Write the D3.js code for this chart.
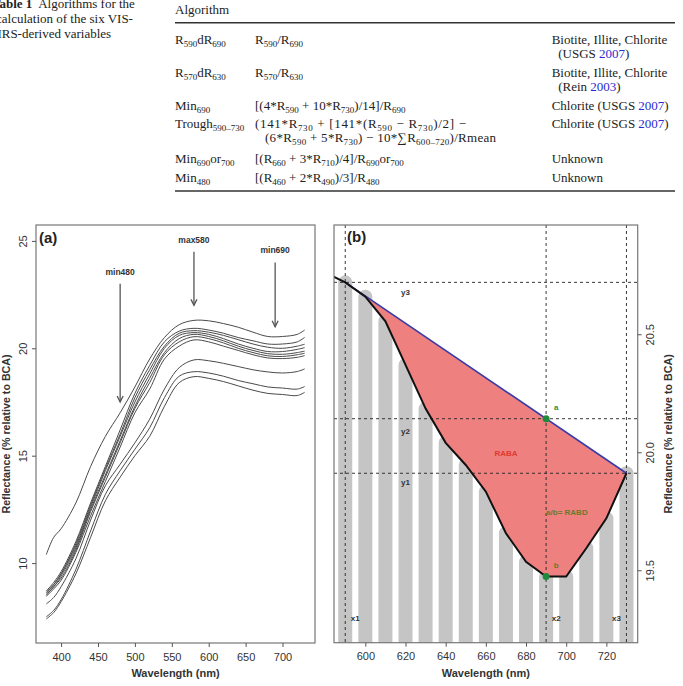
<!DOCTYPE html>
<html>
<head>
<meta charset="utf-8">
<script src="https://cdn.jsdelivr.net/npm/d3@7"></script>
<style>
body { margin: 0; background: #fff; }
svg { display: block; }
.serif { font-family: "Liberation Serif", "Times New Roman", serif; font-size: 13px; fill: #222; white-space: pre; }
.sans { font-family: "Liberation Sans", Arial, Helvetica, sans-serif; }
.axis text { font-family: "Liberation Sans", Arial, sans-serif; font-size: 11px; fill: #333; }
.axis line { stroke: #555; }
.axis path { display: none; }
</style>
</head>
<body>
<svg id="fig" width="683" height="686"></svg>
<script>
// ---------- table ----------
const captionLines = ["*{Table 1}  Algorithms for the", "calculation of the six VIS-", "NIRS-derived variables"];
const tableHeader = "Algorithm";
const varNames = ["R_{590}dR_{690}", "R_{570}dR_{630}", "Min_{690}", "Trough_{590–730}", "Min_{690}or_{700}", "Min_{480}"];
const formulas = [
  ["R_{590}/R_{690}"],
  ["R_{570}/R_{630}"],
  ["[(4*R_{590} + 10*R_{730})/14]/R_{690}"],
  ["(141*R_{730} + [141*(R_{590} − R_{730})/2] −", "(6*R_{590} + 5*R_{730}) − 10*∑R_{600–720})/Rmean"],
  ["[(R_{660} + 3*R_{710})/4]/R_{690}or_{700}"],
  ["[(R_{460} + 2*R_{490})/3]/R_{480}"]
];
const minerals = [
  ["Biotite, Illite, Chlorite", "  (USGS ~{2007})"],
  ["Biotite, Illite, Chlorite", "  (Rein ~{2003})"],
  ["Chlorite (USGS ~{2007})"],
  ["Chlorite (USGS ~{2007})"],
  ["Unknown"],
  ["Unknown"]
];

// ---------- panel (a): spectra ----------
const wavelengthsA = [380, 390, 400, 420, 440, 460, 480, 500, 520, 540, 560, 580, 600, 620, 640, 660, 680, 700, 720, 730];
const spectra = [
  [10.4, 11.2, 11.6, 12.8, 14.5, 15.9, 17.0, 18.2, 19.5, 20.5, 21.1, 21.3, 21.28, 21.15, 20.98, 20.75, 20.55, 20.55, 20.65, 20.85],
  [8.7, 9.1, 9.6, 11.0, 12.8, 14.5, 16.2, 17.9, 19.2, 20.3, 20.8, 20.93, 20.85, 20.7, 20.5, 20.35, 20.2, 20.2, 20.3, 20.51],
  [8.65, 9.0, 9.5, 10.9, 12.7, 14.4, 16.0, 17.7, 19.0, 20.1, 20.7, 20.82, 20.75, 20.6, 20.4, 20.2, 20.05, 20.0, 20.1, 20.19],
  [8.6, 9.0, 9.5, 10.8, 12.6, 14.3, 15.9, 17.5, 18.8, 20.0, 20.6, 20.73, 20.65, 20.45, 20.2, 20.0, 19.85, 19.85, 19.95, 20.03],
  [8.55, 8.9, 9.4, 10.7, 12.5, 14.1, 15.7, 17.3, 18.6, 19.8, 20.45, 20.65, 20.55, 20.35, 20.1, 19.9, 19.75, 19.72, 19.8, 19.87],
  [8.5, 8.9, 9.3, 10.6, 12.4, 14.0, 15.6, 17.2, 18.4, 19.7, 20.3, 20.54, 20.45, 20.25, 20.0, 19.8, 19.65, 19.62, 19.7, 19.77],
  [8.45, 8.8, 9.2, 10.5, 12.2, 13.8, 15.4, 17.0, 18.1, 19.5, 20.1, 20.39, 20.3, 20.1, 19.9, 19.7, 19.55, 19.52, 19.58, 19.66],
  [8.1, 8.4, 8.9, 10.2, 12.0, 13.6, 14.6, 15.6, 16.7, 18.1, 19.1, 19.46, 19.42, 19.3, 19.15, 19.0, 18.9, 18.85, 18.92, 19.04],
  [7.5, 7.8, 8.3, 9.7, 11.5, 13.2, 14.3, 15.3, 16.3, 17.7, 18.7, 18.91, 18.85, 18.7, 18.5, 18.35, 18.2, 18.15, 18.1, 18.22],
  [7.4, 7.7, 8.2, 9.5, 11.2, 12.9, 14.0, 15.0, 15.9, 17.3, 18.4, 18.68, 18.6, 18.45, 18.25, 18.05, 17.9, 17.85, 17.8, 17.95]
];
const featureNames = ["min480", "max580", "min690"];
const featureWl = [480, 580, 690];
const featureTop = [23.0, 24.5, 24.0];
const featureTip = [17.5, 22.0, 21.0];

// ---------- panel (b): continuum removal ----------
const wavelengthsB = [580, 590, 600, 610, 620, 630, 640, 650, 660, 670, 680, 690, 700, 710, 720, 730];
const reflB = [20.762, 20.72, 20.659, 20.555, 20.37, 20.185, 20.04, 19.946, 19.833, 19.657, 19.536, 19.473, 19.473, 19.593, 19.72, 19.911];
const hullEnds = [590, 730];
const bandCentre = 690;

const svg = d3.select("#fig");

// rich text: _{sub}, ~{blue}, *{bold}
function rich(textSel, str) {
  const parts = str.split(/(_\{[^}]*\}|~\{[^}]*\}|\*\{[^}]*\})/).filter(p => p !== "");
  let down = false;
  parts.forEach(p => {
    const t = textSel.append("tspan");
    if (p.startsWith("_{")) {
      t.text(p.slice(2, -1)).attr("font-size", 9).attr("dy", down ? 0 : 3);
      down = true;
    } else {
      if (down) t.attr("dy", -3);
      down = false;
      if (p.startsWith("~{")) t.text(p.slice(2, -1)).style("fill", "#2b2bd0");
      else if (p.startsWith("*{")) t.text(p.slice(2, -1)).style("font-weight", "bold");
      else t.text(p);
    }
  });
  return textSel;
}

// caption
const capX = [-8, -4, -12];
captionLines.forEach((l, i) => {
  rich(svg.append("text").attr("class", "serif").attr("x", capX[i]).attr("y", 7.5 + i * 15), l);
});

// table
const colX = [175, 255, 551.7];
const rowY = [44, 77, 110, 128, 162.5, 182];
svg.append("text").attr("class", "serif").attr("x", colX[0]).attr("y", 13.5).text(tableHeader);
svg.append("line").attr("x1", 175).attr("x2", 675).attr("y1", 22.7).attr("y2", 22.7).attr("stroke", "#333").attr("stroke-width", 1.4);
svg.append("line").attr("x1", 175).attr("x2", 675).attr("y1", 191).attr("y2", 191).attr("stroke", "#333").attr("stroke-width", 1.4);
const troughLen = [211, 231];
varNames.forEach((v, i) => {
  rich(svg.append("text").attr("class", "serif").attr("x", colX[0]).attr("y", rowY[i]), v);
  formulas[i].forEach((f, j) => {
    const t = rich(svg.append("text").attr("class", "serif").attr("x", colX[1] + j * 10).attr("y", rowY[i] + j * 13.5), f);
    if (formulas[i].length > 1) t.attr("textLength", troughLen[j]).attr("lengthAdjust", "spacing");
  });
  minerals[i].forEach((m, j) => rich(svg.append("text").attr("class", "serif").attr("x", colX[2]).attr("y", rowY[i] + j * 13.5), m));
});

// ---------- panel (a) ----------
const fa = { l: 36, r: 315, t: 225, b: 643 };
const xa = d3.scaleLinear().domain([366, 744]).range([fa.l, fa.r]);
const ya = d3.scaleLinear().domain([6.28, 25.74]).range([fa.b, fa.t]);
const ga = svg.append("g");

const lineA = d3.line().x((d, i) => xa(wavelengthsA[i])).y(d => ya(d)).curve(d3.curveCatmullRom);
ga.selectAll(".spec").data(spectra).enter().append("path")
  .attr("d", lineA).attr("fill", "none").attr("stroke", "#4a4a4a").attr("stroke-width", 1);

featureNames.forEach((n, i) => {
  const x = xa(featureWl[i]);
  ga.append("text").attr("class", "sans").attr("x", x).attr("y", ya(featureTop[i]) - 9)
    .attr("text-anchor", "middle").style("font-size", "8.5px").style("font-weight", "bold").style("fill", "#333").text(n);
  ga.append("line").attr("x1", x).attr("x2", x).attr("y1", ya(featureTop[i])).attr("y2", ya(featureTip[i]))
    .attr("stroke", "#555").attr("stroke-width", 1.3);
  const ty = ya(featureTip[i]);
  ga.append("path").attr("d", `M${x - 3},${ty - 6}L${x},${ty}L${x + 3},${ty - 6}`)
    .attr("fill", "none").attr("stroke", "#555").attr("stroke-width", 1.3);
});

ga.append("rect").attr("x", fa.l).attr("y", fa.t).attr("width", fa.r - fa.l).attr("height", fa.b - fa.t)
  .attr("fill", "none").attr("stroke", "#777").attr("stroke-width", 1.2);

ga.append("g").attr("class", "axis").attr("transform", `translate(0,${fa.b})`)
  .call(d3.axisBottom(xa).tickValues(d3.range(400, 701, 50)).tickSize(4).tickSizeOuter(0).tickPadding(6));
const yaxA = ga.append("g").attr("class", "axis").attr("transform", `translate(${fa.l},0)`)
  .call(d3.axisLeft(ya).tickValues([10, 15, 20, 25]).tickSize(4).tickSizeOuter(0));
yaxA.selectAll("text").attr("transform", "rotate(-90)").attr("x", 0).attr("y", -9).attr("dy", 0).style("text-anchor", "middle");

ga.append("text").attr("class", "sans").attr("x", 39).attr("y", 243).style("font-size", "15px").style("font-weight", "bold").style("fill", "#222").text("(a)");
ga.append("text").attr("class", "sans").attr("x", (fa.l + fa.r) / 2).attr("y", 677).attr("text-anchor", "middle")
  .style("font-size", "11px").style("font-weight", "bold").style("fill", "#333").text("Wavelength (nm)");
ga.append("text").attr("class", "sans").attr("transform", `translate(9.5,${(fa.t + fa.b) / 2}) rotate(-90)`).attr("text-anchor", "middle")
  .style("font-size", "10.7px").style("font-weight", "bold").style("fill", "#333").text("Reflectance (% relative to BCA)");

// ---------- panel (b) ----------
const fb = { l: 334, r: 637.7, t: 225, b: 642.7 };
const xb = d3.scaleLinear().domain([584.4, 735.6]).range([fb.l, fb.r]);
const yb = d3.scaleLinear().domain([19.193, 20.963]).range([fb.b, fb.t]);
const gb = svg.append("g");
gb.append("clipPath").attr("id", "clipb").append("rect")
  .attr("x", fb.l).attr("y", fb.t).attr("width", fb.r - fb.l).attr("height", fb.b - fb.t);
const inner = gb.append("g").attr("clip-path", "url(#clipb)");

const pts = wavelengthsB.map((w, i) => ({ w, v: reflB[i] }));
const inHull = pts.filter(p => p.w >= hullEnds[0] && p.w <= hullEnds[1]);
const r1 = inHull[0].v, r2 = inHull[inHull.length - 1].v;
const hull = w => r1 + (r2 - r1) * (w - hullEnds[0]) / (hullEnds[1] - hullEnds[0]);

// bars
inner.selectAll(".bar").data(inHull).enter().append("line")
  .attr("x1", d => xb(d.w)).attr("x2", d => xb(d.w))
  .attr("y1", fb.b + 20).attr("y2", d => yb(d.v))
  .attr("stroke", "#c5c5c5").attr("stroke-width", 14).attr("stroke-linecap", "round");

// area between hull and spectrum
const poly = [[hullEnds[0], r1], [hullEnds[1], r2]].concat(inHull.slice().reverse().map(p => [p.w, p.v]));
inner.append("path").attr("d", "M" + poly.map(p => `${xb(p[0])},${yb(p[1])}`).join("L") + "Z")
  .attr("fill", "#ee8080").attr("stroke", "none");

// dashed guides
const dash = { stroke: "#222", "stroke-width": 0.9, "stroke-dasharray": "3,3" };
const vGuides = [hullEnds[0], bandCentre, hullEnds[1]];
const hGuides = [r1, hull(bandCentre), r2];
vGuides.forEach(w => {
  const l = inner.append("line").attr("x1", xb(w)).attr("x2", xb(w)).attr("y1", fb.t).attr("y2", fb.b);
  Object.entries(dash).forEach(([k, v]) => l.attr(k, v));
});
hGuides.forEach(v => {
  const l = inner.append("line").attr("x1", fb.l).attr("x2", fb.r).attr("y1", yb(v)).attr("y2", yb(v));
  Object.entries(dash).forEach(([k, val]) => l.attr(k, val));
});

inner.append("line").attr("x1", xb(hullEnds[0])).attr("y1", yb(r1)).attr("x2", xb(hullEnds[1])).attr("y2", yb(r2))
  .attr("stroke", "#3b3ba6").attr("stroke-width", 1.6);
inner.append("path").datum(pts)
  .attr("d", d3.line().x(d => xb(d.w)).y(d => yb(d.v)))
  .attr("fill", "none").attr("stroke", "#111").attr("stroke-width", 2);

const bVal = reflB[wavelengthsB.indexOf(bandCentre)];
[hull(bandCentre), bVal].forEach(v => {
  inner.append("circle").attr("cx", xb(bandCentre)).attr("cy", yb(v)).attr("r", 3.5).attr("fill", "#1f8a3c");
});

const lbl = (w, v, t, col, anchor) => inner.append("text").attr("class", "sans")
  .attr("x", xb(w)).attr("y", yb(v)).attr("text-anchor", anchor || "middle")
  .style("font-size", "8px").style("font-weight", "bold").style("fill", col).text(t);
lbl(620, hGuides[0] - 0.055, "y3", "#333");
lbl(620, hGuides[1] - 0.065, "y2", "#333");
lbl(620, hGuides[2] - 0.05, "y1", "#333");
lbl(hullEnds[0] + 5, 19.285, "x1", "#333");
lbl(bandCentre + 5, 19.285, "x2", "#333");
lbl(hullEnds[1] - 5, 19.285, "x3", "#333");
lbl(bandCentre + 5, hull(bandCentre) + 0.038, "a", "#3a8a3a");
lbl(bandCentre + 5, bVal + 0.038, "b", "#6b7a2a");
lbl(670, 19.985, "RABA", "#e03a30");
lbl(bandCentre, 19.735, "a/b= RABD", "#6b7a2a", "start");

gb.append("rect").attr("x", fb.l).attr("y", fb.t).attr("width", fb.r - fb.l).attr("height", fb.b - fb.t)
  .attr("fill", "none").attr("stroke", "#777").attr("stroke-width", 1.2);

gb.append("g").attr("class", "axis").attr("transform", `translate(0,${fb.b})`)
  .call(d3.axisBottom(xb).tickValues(d3.range(600, 721, 20)).tickSize(4).tickSizeOuter(0).tickPadding(6));
const yaxB = gb.append("g").attr("class", "axis").attr("transform", `translate(${fb.r},0)`)
  .call(d3.axisRight(yb).tickValues([19.5, 20.0, 20.5]).tickFormat(d3.format(".1f")).tickSize(4).tickSizeOuter(0));
yaxB.selectAll("text").attr("transform", "rotate(-90)").attr("x", 0).attr("y", 16).attr("dy", 0).style("text-anchor", "middle");

gb.append("text").attr("class", "sans").attr("x", 347).attr("y", 242).style("font-size", "15px").style("font-weight", "bold").style("fill", "#222").text("(b)");
gb.append("text").attr("class", "sans").attr("x", (fb.l + fb.r) / 2).attr("y", 677).attr("text-anchor", "middle")
  .style("font-size", "11px").style("font-weight", "bold").style("fill", "#333").text("Wavelength (nm)");
gb.append("text").attr("class", "sans").attr("transform", `translate(672,${(fb.t + fb.b) / 2}) rotate(-90)`).attr("text-anchor", "middle")
  .style("font-size", "10.7px").style("font-weight", "bold").style("fill", "#333").text("Reflectance (% relative to BCA)");
</script>
</body>
</html>
